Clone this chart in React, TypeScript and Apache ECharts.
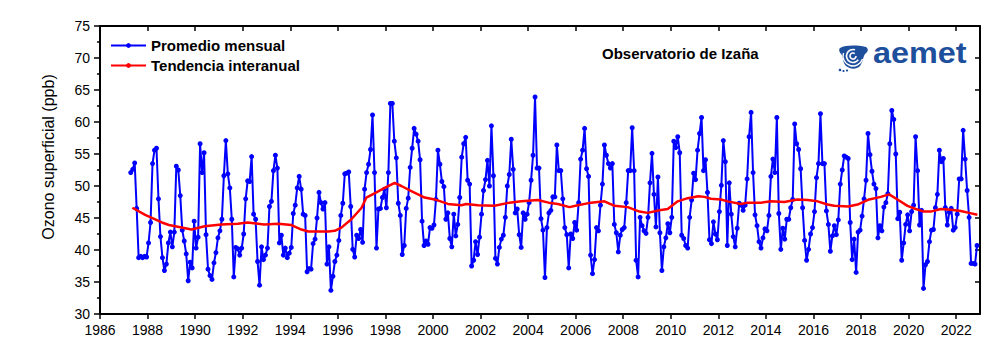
import React, { useEffect, useRef } from "react";
import * as echarts from "echarts";

// Monthly mean surface ozone (ppb), Izaña Observatory, starting April 1987
const START_YEAR = 1987;
const START_MONTH = 4;

const ozone1987to1995 = [
  52.1, 52.6, 53.6, 46.5, 38.8, 39.0, 38.8, 39.0, 38.9,
  41.1, 44.3, 53.5, 55.6, 55.9, 48.0, 42.1, 38.8, 36.8, 37.8, 41.1, 42.8,
  40.5, 42.8, 53.1, 52.5, 48.5, 43.1, 41.4, 39.4, 35.2, 38.1, 37.2, 44.5,
  40.3, 42.0, 56.6, 52.1, 55.2, 42.4, 37.0, 36.0, 35.4, 38.0, 39.6, 41.9,
  43.0, 44.8, 51.6, 57.1, 51.9, 49.7, 44.8, 35.8, 40.4, 40.2, 39.2, 40.3,
  42.5, 48.0, 50.8, 50.7, 54.6, 45.6, 44.8, 38.2, 34.5, 40.5, 38.5, 39.2,
  40.3, 46.8, 47.6, 52.4, 54.8, 52.8, 41.1, 42.3, 39.2, 40.3, 38.8, 39.5,
  40.4, 45.7, 47.0, 49.7, 51.5, 49.5, 45.6, 45.4, 36.6, 37.1, 37.0, 41.0,
  41.7, 45.0, 49.0, 47.4, 46.4, 47.4, 37.8, 40.5, 33.7, 35.9, 38.2, 39.2,
];
const ozone1996to2004 = [
  41.5, 45.4, 47.3, 51.9, 52.0, 52.2, 46.8, 40.1, 38.9, 42.3, 41.8, 43.2,
  41.2, 49.5, 52.1, 53.4, 55.7, 61.1, 52.1, 40.3, 46.4, 46.5, 48.2, 49.5,
  46.6, 52.1, 62.9, 62.9, 57.0, 54.4, 47.3, 45.4, 39.3, 40.7, 46.5, 48.1,
  52.9, 55.9, 59.0, 58.1, 57.0, 54.1, 44.5, 40.7, 41.4, 40.9, 43.5, 43.4,
  43.9, 47.9, 55.6, 53.4, 50.7, 49.9, 44.8, 45.8, 41.8, 40.5, 45.6, 42.2,
  44.0, 48.2, 54.5, 56.6, 57.6, 50.9, 50.3, 37.5, 38.4, 41.3, 39.3, 42.0,
  45.6, 49.3, 51.0, 54.0, 50.0, 59.4, 51.6, 38.7, 37.8, 40.4, 41.7, 42.3,
  45.1, 50.0, 51.8, 57.3, 52.6, 45.8, 46.4, 42.4, 40.4, 45.8, 44.8, 45.6,
  47.4, 50.9, 54.8, 63.9, 52.8, 52.8, 44.9, 43.1, 35.7, 43.5, 45.8, 46.2,
];
const ozone2005to2013 = [
  48.3, 48.3, 56.4, 52.4, 52.4, 48.0, 43.5, 42.4, 37.2, 42.5, 41.8, 44.3,
  43.1, 47.4, 54.2, 55.6, 59.0, 52.7, 51.5, 39.2, 36.3, 38.5, 43.5, 43.0,
  47.0, 50.3, 56.4, 54.8, 53.5, 52.8, 53.5, 44.0, 42.7, 39.7, 42.3, 43.2,
  43.5, 47.4, 52.4, 52.4, 59.1, 52.4, 38.4, 35.8, 45.1, 43.8, 43.0, 42.6,
  45.1, 50.5, 55.1, 48.7, 43.6, 51.4, 42.7, 36.8, 40.5, 41.9, 44.1, 42.7,
  45.1, 57.0, 56.0, 57.7, 55.2, 42.3, 41.8, 40.7, 40.3, 45.1, 47.8, 52.0,
  51.0, 55.6, 58.2, 60.7, 52.4, 54.1, 49.0, 41.6, 41.0, 44.4, 42.5, 41.6,
  46.0, 50.1, 57.1, 53.8, 40.7, 50.5, 45.6, 42.1, 40.5, 43.4, 47.3, 47.0,
  46.2, 47.0, 51.1, 57.7, 61.5, 52.1, 45.5, 43.8, 41.3, 40.3, 41.9, 43.3,
];
const ozone2014to2022 = [
  43.0, 45.4, 51.5, 54.2, 52.1, 60.7, 45.7, 40.1, 43.4, 41.7, 44.8, 44.8,
  46.6, 47.9, 59.7, 56.6, 55.7, 52.7, 46.6, 41.5, 38.4, 40.1, 42.5, 43.5,
  46.0, 51.3, 53.5, 61.3, 53.5, 53.5, 46.1, 44.0, 39.8, 42.2, 43.8, 42.4,
  44.7, 50.3, 52.5, 54.7, 54.5, 54.3, 44.3, 38.5, 41.7, 36.5, 42.8, 43.1,
  45.3, 48.0, 50.9, 58.2, 54.9, 52.3, 50.3, 49.6, 41.9, 43.8, 43.0, 46.7,
  47.4, 48.8, 56.6, 61.8, 60.4, 55.0, 44.9, 45.9, 38.4, 41.1, 44.0, 45.5,
  43.0, 46.0, 47.0, 57.7, 52.4, 43.9, 46.2, 34.0, 37.7, 38.2, 41.3, 43.1,
  43.2, 46.6, 48.7, 55.6, 53.8, 54.3, 46.6, 43.9, 45.9, 46.5, 43.1, 43.5,
  45.6, 51.1, 51.1, 58.7, 54.2, 49.3, 45.1, 37.9, 37.9, 37.8, 40.7,
];

// Inter-annual trend
const trendYears = [
  1987.36, 1987.9, 1988.6, 1988.9, 1989.85, 1990.4, 1991.1, 1991.8, 1992.2, 1992.9,
  1993.5, 1994.05, 1994.47, 1994.75, 1995.6, 1995.87, 1996.15, 1996.57, 1997.0, 1997.2,
  1997.62, 1997.97, 1998.39, 1998.67, 1999.09, 1999.65, 2000.07, 2000.63, 2001.19, 2001.4,
  2001.89, 2002.59, 2003.22, 2003.71, 2004.41, 2004.86, 2005.25, 2005.74, 2006.09, 2006.65,
  2007.21, 2007.63, 2008.19, 2008.68, 2009.03, 2009.52, 2009.87, 2010.29, 2010.71, 2011.16,
  2011.41, 2011.69, 2012.11, 2012.39, 2012.95, 2013.23, 2013.79, 2014.21, 2014.77, 2015.33,
  2015.75, 2016.17, 2016.59, 2016.87, 2017.46, 2017.85, 2018.34, 2018.83, 2019.18, 2019.53,
  2019.95, 2020.3, 2020.65, 2020.93, 2021.35, 2021.77, 2022.19, 2022.54, 2022.89,
];
const trendValues = [
  46.6, 45.5, 44.3, 43.9, 43.2, 43.7, 44.0, 44.1, 44.3, 44.0,
  44.1, 43.9, 43.2, 42.9, 42.9, 43.0, 43.5, 44.8, 46.6, 48.2,
  49.0, 49.7, 50.5, 50.0, 49.2, 48.2, 47.9, 47.2, 47.0, 47.2,
  47.0, 46.9, 47.4, 47.6, 47.8, 47.4, 47.2, 46.7, 47.0, 47.4,
  47.6, 46.9, 46.7, 46.0, 45.8, 46.2, 46.4, 47.6, 48.1, 48.4,
  48.3, 48.0, 47.9, 47.6, 47.2, 47.4, 47.4, 47.6, 47.5, 47.9,
  47.8, 47.6, 47.1, 46.9, 46.8, 47.1, 47.9, 48.3, 48.7, 47.9,
  46.9, 46.4, 46.0, 46.0, 46.4, 46.3, 46.1, 45.8, 45.5,
];

const xTickYears = [
  1986, 1988, 1990, 1992, 1994, 1996, 1998, 2000, 2002, 2004,
  2006, 2008, 2010, 2012, 2014, 2016, 2018, 2020, 2022,
];
const yTicks = [30, 35, 40, 45, 50, 55, 60, 65, 70, 75];

const FONT = "'Liberation Sans', Arial, sans-serif";

echarts.graphic.registerShape(
  "aemetIcon",
  echarts.graphic.extendPath(
    "M2 3 C8 0 18 0 28 2 C31 4 30 7 27 9 C25 12 25 17 22 21 C18 25 12 24 8 21 C5 18 5 13 4 10 C2 8 0 5 2 3 Z",
    {}
  )
);

export default function App() {
  const ref = useRef<HTMLDivElement>(null);

  useEffect(() => {
    if (!ref.current) return;
    const chart = echarts.init(ref.current, undefined, { renderer: "svg" });

    const monthly = [...ozone1987to1995, ...ozone1996to2004, ...ozone2005to2013, ...ozone2014to2022];
    const monthlyPoints = monthly.map((v, i) => [START_YEAR + (START_MONTH - 1 + i + 0.5) / 12, v]);
    const trendPoints = trendYears.map((y, i) => [y, trendValues[i]]);

    const axisLineStyle = { color: "#000", width: 2 };

    chart.setOption({
      animation: false,
      backgroundColor: "#fff",
      grid: { left: 100, right: 20, top: 26, bottom: 47, containLabel: false },
      legend: {
        orient: "vertical",
        left: 110,
        top: 38,
        padding: 0,
        itemWidth: 35,
        itemHeight: 6,
        itemGap: 5,
        textStyle: { fontFamily: FONT, fontWeight: "bold", fontSize: 15, color: "#000" },
        data: ["Promedio mensual", "Tendencia interanual"],
      },
      xAxis: [
        {
          type: "value",
          position: "bottom",
          min: 1986,
          max: 2023,
          interval: 2,
          axisLine: { show: true, onZero: false, lineStyle: axisLineStyle },
          axisTick: { show: true, inside: false, length: 5, lineStyle: { color: "#000", width: 1.5 }, customValues: xTickYears },
          axisLabel: {
            color: "#000",
            fontFamily: FONT,
            fontSize: 14,
            margin: 9,
            customValues: xTickYears,
            formatter: (v: number) => (v % 2 === 0 ? String(v) : ""),
          },
          splitLine: { show: false },
        },
        {
          type: "value",
          position: "top",
          min: 1986,
          max: 2023,
          interval: 2,
          axisLine: { show: true, onZero: false, lineStyle: axisLineStyle },
          axisTick: { show: true, inside: true, length: 5, lineStyle: { color: "#000", width: 1.5 }, customValues: xTickYears },
          axisLabel: { show: false },
          splitLine: { show: false },
        },
      ],
      yAxis: [
        {
          type: "value",
          position: "left",
          min: 30,
          max: 75,
          interval: 5,
          axisLine: { show: true, onZero: false, lineStyle: axisLineStyle },
          axisTick: { show: true, inside: false, length: 6, lineStyle: { color: "#000", width: 1.5 } },
          minorTick: { show: true, splitNumber: 2, length: 3, lineStyle: { color: "#000", width: 1.5 } },
          axisLabel: {
            color: "#000",
            fontFamily: FONT,
            fontSize: 14,
            margin: 10,
            customValues: yTicks,
          },
          splitLine: { show: false },
          minorSplitLine: { show: false },
        },
        {
          type: "value",
          position: "right",
          min: 30,
          max: 75,
          interval: 5,
          axisLine: { show: true, onZero: false, lineStyle: axisLineStyle },
          axisTick: { show: true, inside: true, length: 5, lineStyle: { color: "#000", width: 1.5 } },
          axisLabel: { show: false },
          splitLine: { show: false },
        },
      ],
      series: [
        {
          name: "Promedio mensual",
          type: "line",
          xAxisIndex: 0,
          yAxisIndex: 0,
          data: monthlyPoints,
          color: "#0000ff",
          symbol: "circle",
          symbolSize: 5,
          showSymbol: true,
          showAllSymbol: true,
          lineStyle: { color: "#0000ff", width: 2 },
          itemStyle: { color: "#0000ff" },
          z: 2,
        },
        {
          name: "Tendencia interanual",
          type: "line",
          xAxisIndex: 0,
          yAxisIndex: 0,
          data: trendPoints,
          color: "#ff0000",
          symbol: "none",
          showSymbol: false,
          lineStyle: { color: "#ff0000", width: 2.5 },
          itemStyle: { color: "#ff0000" },
          z: 3,
        },
      ],
      graphic: [
        {
          type: "text",
          x: 48,
          y: 157,
          rotation: Math.PI / 2,
          style: {
            text: "Ozono superficial (ppb)",
            fontFamily: FONT,
            fontSize: 16,
            fill: "#000",
            align: "center",
            verticalAlign: "middle",
            textAlign: "center",
            textVerticalAlign: "middle",
          },
        },
        {
          type: "text",
          x: 602,
          y: 53,
          style: {
            text: "Observatorio de Izaña",
            fontFamily: FONT,
            fontWeight: "bold",
            fontSize: 15,
            fill: "#000",
            align: "left",
            verticalAlign: "middle",
            textAlign: "left",
            textVerticalAlign: "middle",
          },
        },
        {
          type: "group",
          x: 838,
          y: 45,
          children: [
            { type: "aemetIcon", x: 0, y: 0, style: { fill: "#1d4f9c" } },
            { type: "arc", shape: { cx: 15, cy: 11, r: 3, startAngle: 0, endAngle: Math.PI * 1.7 }, style: { stroke: "#fff", lineWidth: 1.6, fill: null } },
            { type: "arc", shape: { cx: 15, cy: 11, r: 6.5, startAngle: Math.PI * 0.2, endAngle: Math.PI * 1.6 }, style: { stroke: "#fff", lineWidth: 1.6, fill: null } },
            { type: "arc", shape: { cx: 15, cy: 11, r: 10, startAngle: Math.PI * 0.1, endAngle: Math.PI * 1.1 }, style: { stroke: "#fff", lineWidth: 1.4, fill: null } },
            { type: "circle", shape: { cx: 2, cy: 25, r: 1.3 }, style: { fill: "#1d4f9c" } },
            { type: "circle", shape: { cx: 5.5, cy: 26, r: 1.1 }, style: { fill: "#1d4f9c" } },
            { type: "circle", shape: { cx: 9, cy: 25.5, r: 1.1 }, style: { fill: "#1d4f9c" } },
          ],
        },
        {
          type: "text",
          x: 873,
          y: 53,
          scaleX: 1.08,
          style: {
            text: "aemet",
            fontFamily: FONT,
            fontWeight: "bold",
            fontSize: 30,
            fill: "#1d4f9c",
            align: "left",
            verticalAlign: "middle",
            textAlign: "left",
            textVerticalAlign: "middle",
          },
        },
      ],
    });

    return () => chart.dispose();
  }, []);

  return (
    <div
      ref={ref}
      style={{ position: "fixed", left: 0, top: 0, width: 1000, height: 361, background: "#fff" }}
    />
  );
}
